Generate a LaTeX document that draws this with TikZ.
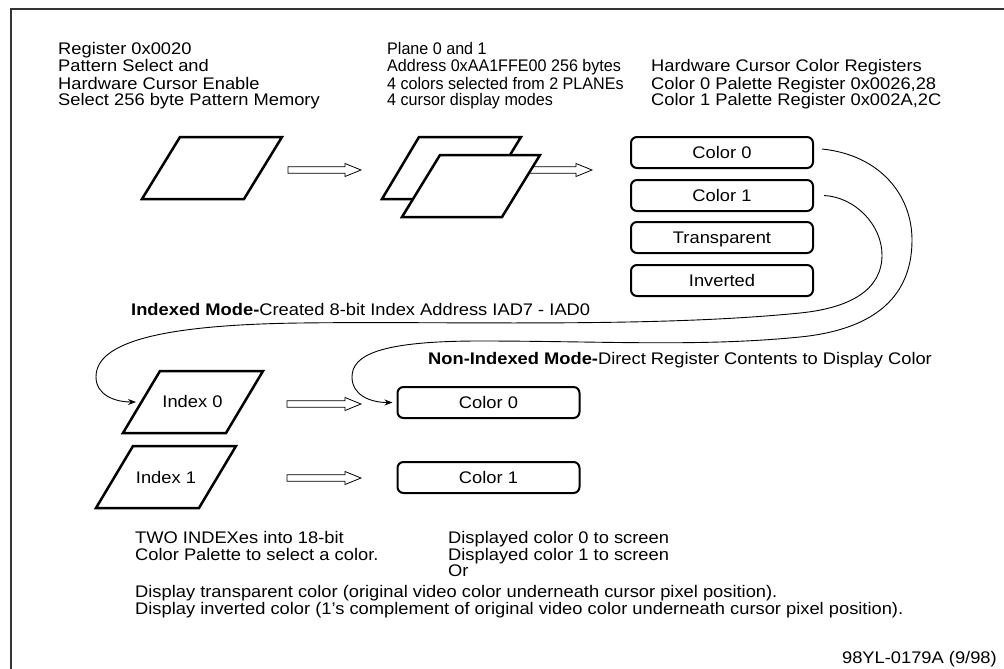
\documentclass[tikz,border=0pt]{standalone}
\usepackage{graphicx}
\usepackage{fontspec}
\setmainfont[FakeStretch=1.09]{Liberation Sans}
\usetikzlibrary{arrows.meta}
\newcommand\fs{\fontsize{16.8}{17}\selectfont}
\newcommand\nar[1]{\scalebox{0.88}[1]{#1}}
\newcommand\hollowarrow[3]{%
  \draw[harrow] (#1,#3-3.3) -- (#2-16,#3-3.3) -- (#2-16,#3-6.5) -- (#2,#3)
    -- (#2-16,#3+6.5) -- (#2-16,#3+3.3) -- (#1,#3+3.3) -- cycle;}
\tikzset{
  lbl/.style={anchor=base west, inner sep=0pt, font=\fs},
  rbox/.style={draw, line width=2pt, rounded corners=6pt, minimum width=182pt,
    minimum height=31pt, inner sep=0pt, text height=12pt, text depth=0pt, font=\fs},
  para/.style={draw, line width=2.5pt, fill=white, line join=miter},
  curve/.style={line width=0.9pt, -{Stealth[length=8pt,width=6pt]}},
  harrow/.style={draw, line width=0.8pt, fill=white},
}
\begin{document}
\begin{tikzpicture}[x=1pt,y=-1pt]
\useasboundingbox (0,0) rectangle (1004,669);
% frame
\draw[line width=1.5pt, black!80] (11,669) -- (11,9) -- (1004,9);

% top texts
\node[lbl] (t1a) at (58,55) {Register 0x0020};
\node[lbl] (t1b) at (58,72) {Pattern Select and};
\node[lbl] (t1c) at (58,89) {Hardware Cursor Enable};
\node[lbl] (t1d) at (58,106) {Select 256 byte Pattern Memory};
\node[lbl] (t2a) at (387,55) {\nar{Plane 0 and 1}};
\node[lbl] (t2b) at (387,72) {\nar{Address 0xAA1FFE00 256 bytes}};
\node[lbl] (t2c) at (387,89) {\nar{4 colors selected from 2 PLANEs}};
\node[lbl] (t2d) at (387,106) {\nar{4 cursor display modes}};
\node[lbl] (t3a) at (651,72) {Hardware Cursor Color Registers};
\node[lbl] (t3b) at (651,89) {Color 0 Palette Register 0x0026,28};
\node[lbl] (t3c) at (651,106) {Color 1 Palette Register 0x002A,2C};

% pattern memory
\draw[para] (180,137) -- (282,137) -- (244,199) -- (142,199) -- cycle;
\hollowarrow{288}{361}{170}
% planes
\draw[para] (419,137) -- (521,137) -- (483,199) -- (382,199) -- cycle;
\hollowarrow{520}{592}{170}
\draw[para] (440,155) -- (540,155) -- (502,217) -- (402,217) -- cycle;

% color registers
\node[rbox] (rc0) at (722,152.5) {Color 0};
\node[rbox] (rc1) at (722,195.5) {Color 1};
\node[rbox] (rtr) at (722,237.5) {Transparent};
\node[rbox] (rin) at (722,280.5) {Inverted};

% mode labels
\node[lbl] (imode) at (131,315) {\textbf{Indexed Mode-}Created 8-bit Index Address IAD7 - IAD0};
\node[lbl] (nmode) at (428,364) {\textbf{Non-Indexed Mode-}Direct Register Contents to Display Color};

% index parallelograms
\draw[para] (160,371) -- (263,371) -- (226,433) -- (123,433) -- cycle;
\node[font=\fs, anchor=base, inner sep=0pt] (idx0) at (192.5,407) {Index 0};
\draw[para] (133,446) -- (236,446) -- (199,508) -- (96,508) -- cycle;
\node[font=\fs, anchor=base, inner sep=0pt] (idx1) at (166,483) {Index 1};
\coordinate (idx0in) at (136,402);

\hollowarrow{287}{361}{404}
\hollowarrow{287}{361}{478}

\node[rbox] (bc0) at (488.5,402.5) {Color 0};
\node[rbox] (bc1) at (488.5,477.5) {Color 1};

% curves
\draw[curve] ([xshift=8pt,yshift=3.5pt]rc0.east) .. controls (880,155) and (912,195) .. (912,240)
  .. controls (912,300) and (870,330) .. (800,337)
  .. controls (700,347) and (600,341) .. (480,341)
  .. controls (380,341) and (352,355) .. (352,377)
  .. controls (352,395) and (370,402.5) .. ([xshift=-4pt]bc0.west);
\draw[curve] ([xshift=10pt]rc1.east) .. controls (855,197) and (882,225) .. (882,255)
  .. controls (882,290) and (850,308) .. (800,313)
  .. controls (650,328) and (450,321) .. (300,323)
  .. controls (150,325) and (96,345) .. (96,377)
  .. controls (96,395) and (115,402) .. (idx0in);

% bottom texts
\node[lbl] (b1a) at (135,543) {TWO INDEXes into 18-bit};
\node[lbl] (b1b) at (135,560) {Color Palette to select a color.};
\node[lbl] (b2a) at (448,543) {Displayed color 0 to screen};
\node[lbl] (b2b) at (448,560) {Displayed color 1 to screen};
\node[lbl] (b2c) at (448,576) {Or};
\node[lbl] (b3a) at (135,597) {Display transparent color (original video color underneath cursor pixel position).};
\node[lbl] (b3b) at (135,614) {Display inverted color (1's complement of original video color underneath cursor pixel position).};
\node[font=\fs, anchor=base east, inner sep=0pt] (ref) at (997,663) {98YL-0179A (9/98)};
\end{tikzpicture}
\end{document}
